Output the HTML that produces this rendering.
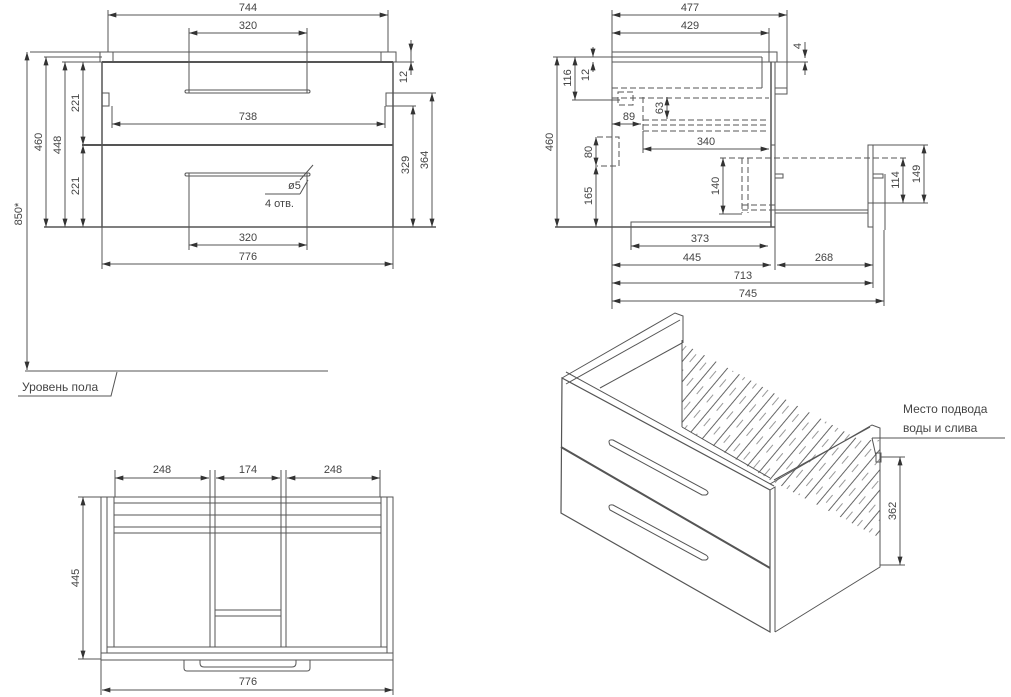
<!DOCTYPE html>
<html><head><meta charset="utf-8">
<style>
html,body{margin:0;padding:0;background:#fff;}
svg{display:block;}
text{font-family:"Liberation Sans Narrow","Liberation Sans",sans-serif;font-size:11px;fill:#444;}
</style></head><body>
<svg width="1011" height="697" viewBox="0 0 1011 697" xmlns="http://www.w3.org/2000/svg">
<defs>
<marker id="a" viewBox="0 0 10 6" refX="10" refY="3" markerWidth="10" markerHeight="5" orient="auto-start-reverse" markerUnits="userSpaceOnUse"><path d="M0,0L10,3L0,6z" fill="#333"/></marker>
<pattern id="h" width="13" height="40" patternUnits="userSpaceOnUse" patternTransform="rotate(40)"><line x1="1" y1="0" x2="1" y2="40" stroke="#666" stroke-width="1"/><line x1="7" y1="4" x2="7" y2="14" stroke="#999" stroke-width="1"/><line x1="7" y1="24" x2="7" y2="34" stroke="#999" stroke-width="1"/></pattern>
</defs>
<g stroke="#555" stroke-width="1" fill="none">
<!-- FRONT VIEW -->
<line x1="30" y1="52" x2="396" y2="52"/>
<rect x="100" y="52" width="13" height="10"/><rect x="381" y="52" width="15" height="10"/>
<line x1="102" y1="62" x2="393" y2="62" stroke-width="2"/>
<line x1="44" y1="57" x2="102" y2="57"/><line x1="62" y1="62" x2="102" y2="62"/>
<line x1="102" y1="62" x2="102" y2="227" stroke-width="1.5"/><line x1="393" y1="62" x2="393" y2="227" stroke-width="1.5"/>
<line x1="82" y1="145" x2="393" y2="145" stroke-width="2"/>
<line x1="44" y1="227" x2="436" y2="227" stroke-width="1.5"/>
<rect x="185" y="90" width="125" height="3" rx="1.5"/><rect x="185" y="173" width="125" height="3" rx="1.5"/>
<path d="M102,93h7v13h-7M393,93h-7v13h7"/>
<line x1="108" y1="52" x2="108" y2="10"/><line x1="388" y1="52" x2="388" y2="10"/>
<line x1="108" y1="15" x2="388" y2="15" marker-start="url(#a)" marker-end="url(#a)"/>
<line x1="189" y1="28" x2="189" y2="93"/><line x1="307" y1="28" x2="307" y2="93"/>
<line x1="189" y1="33" x2="307" y2="33" marker-start="url(#a)" marker-end="url(#a)"/>
<line x1="189" y1="173" x2="189" y2="250"/><line x1="307" y1="173" x2="307" y2="250"/>
<line x1="189" y1="245" x2="307" y2="245" marker-start="url(#a)" marker-end="url(#a)"/>
<line x1="102" y1="227" x2="102" y2="269"/><line x1="393" y1="227" x2="393" y2="269"/>
<line x1="102" y1="264" x2="393" y2="264" marker-start="url(#a)" marker-end="url(#a)"/>
<line x1="112" y1="106" x2="112" y2="128"/><line x1="385" y1="106" x2="385" y2="128"/>
<line x1="112" y1="124" x2="385" y2="124" marker-start="url(#a)" marker-end="url(#a)"/>
<line x1="46" y1="57" x2="46" y2="227" marker-start="url(#a)" marker-end="url(#a)"/>
<line x1="65" y1="62" x2="65" y2="227" marker-start="url(#a)" marker-end="url(#a)"/>
<line x1="83" y1="62" x2="83" y2="145" marker-start="url(#a)" marker-end="url(#a)"/>
<line x1="83" y1="145" x2="83" y2="227" marker-start="url(#a)" marker-end="url(#a)"/>
<line x1="27" y1="52" x2="27" y2="370" marker-start="url(#a)" marker-end="url(#a)"/>
<line x1="396" y1="62" x2="414" y2="62"/>
<line x1="411" y1="40" x2="411" y2="52" marker-end="url(#a)"/><line x1="411" y1="75" x2="411" y2="62" marker-end="url(#a)"/><line x1="411" y1="52" x2="411" y2="62"/>
<line x1="393" y1="93" x2="436" y2="93"/><line x1="393" y1="106" x2="416" y2="106"/>
<line x1="432" y1="93" x2="432" y2="227" marker-start="url(#a)" marker-end="url(#a)"/>
<line x1="413" y1="106" x2="413" y2="227" marker-start="url(#a)" marker-end="url(#a)"/>
<line x1="300" y1="180" x2="313" y2="165"/><line x1="265" y1="194" x2="300" y2="194"/><line x1="300" y1="194" x2="308" y2="180"/>
<!-- floor -->
<line x1="25" y1="371" x2="328" y2="371"/>
<path d="M18,396H111L117,372"/>
<!-- SIDE VIEW -->
<rect x="612" y="52" width="165" height="10"/>
<line x1="612" y1="52" x2="612" y2="309"/>
<line x1="612" y1="57" x2="762" y2="57"/><line x1="762" y1="57" x2="762" y2="88"/>
<line x1="771" y1="62" x2="771" y2="227" stroke-width="1.5"/><line x1="775" y1="62" x2="775" y2="227"/>
<path d="M775,88h12v6h-12"/>
<line x1="555" y1="227" x2="775" y2="227" stroke-width="1.5"/>
<path d="M631,250V222H771"/>
<rect x="868" y="145" width="5" height="82"/>
<line x1="775" y1="210" x2="868" y2="210"/><line x1="775" y1="213" x2="868" y2="213"/>
<path d="M775,174h8v4h-8M873,174h10v4h-10"/><line x1="885" y1="174" x2="885" y2="230"/>
<path d="M771,145h4"/>
<g stroke-dasharray="6,3">
<line x1="612" y1="88" x2="764" y2="88"/><line x1="612" y1="98" x2="769" y2="98"/>
<line x1="643" y1="97" x2="643" y2="131"/>
<line x1="643" y1="120" x2="769" y2="120"/><line x1="643" y1="125" x2="769" y2="125"/><line x1="643" y1="131" x2="769" y2="131"/>
<rect x="618" y="92" width="15" height="13"/>
<path d="M597,137h22v29h-22"/>
<line x1="720" y1="158" x2="906" y2="158"/>
<line x1="742" y1="158" x2="742" y2="213"/><line x1="748" y1="158" x2="748" y2="213"/>
<line x1="742" y1="205" x2="775" y2="205"/><line x1="742" y1="210" x2="775" y2="210"/>
</g>
<line x1="612" y1="10" x2="612" y2="52"/><line x1="787" y1="10" x2="787" y2="90"/>
<line x1="612" y1="15" x2="787" y2="15" marker-start="url(#a)" marker-end="url(#a)"/>
<line x1="769" y1="28" x2="769" y2="62"/>
<line x1="612" y1="33" x2="769" y2="33" marker-start="url(#a)" marker-end="url(#a)"/>
<line x1="777" y1="62" x2="808" y2="62"/>
<line x1="805" y1="42" x2="805" y2="58" marker-end="url(#a)"/><line x1="805" y1="75" x2="805" y2="62" marker-end="url(#a)"/>
<line x1="553" y1="57" x2="612" y2="57"/>
<line x1="557" y1="57" x2="557" y2="227" marker-start="url(#a)" marker-end="url(#a)"/>
<line x1="572" y1="100" x2="620" y2="100"/>
<line x1="575" y1="57" x2="575" y2="100" marker-start="url(#a)" marker-end="url(#a)"/>
<line x1="593" y1="47" x2="593" y2="57" marker-end="url(#a)"/><line x1="593" y1="72" x2="593" y2="62" marker-end="url(#a)"/>
<line x1="612" y1="124" x2="641" y2="124" marker-start="url(#a)" marker-end="url(#a)"/>
<line x1="667" y1="97" x2="667" y2="119" marker-start="url(#a)" marker-end="url(#a)"/>
<line x1="643" y1="131" x2="643" y2="153"/>
<line x1="643" y1="149" x2="769" y2="149" marker-start="url(#a)" marker-end="url(#a)"/>
<line x1="596" y1="137" x2="596" y2="166" marker-start="url(#a)" marker-end="url(#a)"/>
<line x1="596" y1="166" x2="596" y2="227" marker-start="url(#a)" marker-end="url(#a)"/>
<line x1="719" y1="214" x2="742" y2="214"/>
<line x1="723" y1="158" x2="723" y2="214" marker-start="url(#a)" marker-end="url(#a)"/>
<line x1="631" y1="246" x2="768" y2="246" marker-start="url(#a)" marker-end="url(#a)"/>
<line x1="775" y1="227" x2="775" y2="270"/><line x1="873" y1="227" x2="873" y2="288"/><line x1="884" y1="230" x2="884" y2="306"/>
<line x1="612" y1="265" x2="771" y2="265" marker-start="url(#a)" marker-end="url(#a)"/>
<line x1="777" y1="265" x2="873" y2="265" marker-start="url(#a)" marker-end="url(#a)"/>
<line x1="612" y1="283" x2="873" y2="283" marker-start="url(#a)" marker-end="url(#a)"/>
<line x1="612" y1="301" x2="884" y2="301" marker-start="url(#a)" marker-end="url(#a)"/>
<line x1="873" y1="145" x2="928" y2="145"/><line x1="868" y1="203" x2="928" y2="203"/>
<line x1="903" y1="158" x2="903" y2="203" marker-start="url(#a)" marker-end="url(#a)"/>
<line x1="924" y1="145" x2="924" y2="203" marker-start="url(#a)" marker-end="url(#a)"/>
<!-- TOP VIEW -->
<rect x="101" y="497" width="292" height="156"/>
<line x1="107" y1="497" x2="107" y2="653"/><line x1="387" y1="497" x2="387" y2="653"/>
<line x1="114" y1="497" x2="114" y2="647"/><line x1="381" y1="497" x2="381" y2="647"/>
<line x1="107" y1="647" x2="387" y2="647"/>
<line x1="114" y1="503" x2="381" y2="503"/><line x1="114" y1="515" x2="381" y2="515"/><line x1="114" y1="527" x2="381" y2="527"/><line x1="114" y1="533" x2="381" y2="533"/>
<line x1="210" y1="470" x2="210" y2="647"/><line x1="215" y1="470" x2="215" y2="647"/>
<line x1="281" y1="470" x2="281" y2="647"/><line x1="286" y1="470" x2="286" y2="647"/>
<line x1="115" y1="470" x2="115" y2="497"/><line x1="380" y1="470" x2="380" y2="497"/>
<line x1="215" y1="610" x2="281" y2="610"/><line x1="215" y1="616" x2="281" y2="616"/>
<rect x="101" y="653" width="292" height="7"/>
<path d="M184,660v8q0,3 3,3h120q3,0 3,-3v-8M200,660v3q0,4 4,4h88q4,0 4,-4v-3"/>
<line x1="115" y1="478" x2="209" y2="478" marker-start="url(#a)" marker-end="url(#a)"/>
<line x1="216" y1="478" x2="280" y2="478" marker-start="url(#a)" marker-end="url(#a)"/>
<line x1="287" y1="478" x2="380" y2="478" marker-start="url(#a)" marker-end="url(#a)"/>
<line x1="78" y1="497" x2="101" y2="497"/><line x1="78" y1="659" x2="101" y2="659"/>
<line x1="83" y1="497" x2="83" y2="659" marker-start="url(#a)" marker-end="url(#a)"/>
<line x1="101" y1="660" x2="101" y2="695"/><line x1="393" y1="660" x2="393" y2="695"/>
<line x1="102" y1="690" x2="393" y2="690" marker-start="url(#a)" marker-end="url(#a)"/>
<!-- 3D VIEW -->
<polygon points="682,343 860,440 880,440 880,538 770,480 682,427" fill="url(#h)" stroke="none"/>
<path d="M562,378L675,313L683,316L683,343"/>
<path d="M566,384L680,320"/>
<line x1="682" y1="340" x2="682" y2="427"/>
<path d="M682,427L770,478"/>
<path d="M600,388L682,343"/>
<path d="M562,378L770,490L770,632L561,513Z" stroke-width="1.2"/>
<path d="M566,372L774,486"/>
<path d="M770,490L775,487L775,632"/>
<path d="M770,484L872,425L880,428L880,567L775,632"/>
<path d="M774,480L870,427"/>
<path d="M561,447L770,568" stroke-width="2"/>
<path d="M613,440L706,490q4,3 0,5l-4,0L610,445q-3,-6 3,-5Z"/>
<path d="M613,505L706,555q4,3 0,5l-4,0L610,510q-3,-6 3,-5Z"/>
<rect x="876" y="453" width="5" height="9"/>
<line x1="872" y1="438" x2="1005" y2="438"/><line x1="872" y1="438" x2="876" y2="456"/>
<line x1="880" y1="457" x2="905" y2="457"/><line x1="880" y1="565" x2="905" y2="565"/>
<line x1="900" y1="457" x2="900" y2="565" marker-start="url(#a)" marker-end="url(#a)"/>
</g>
<!-- TEXT -->
<text x="248" y="11" text-anchor="middle">744</text>
<text x="248" y="29" text-anchor="middle">320</text>
<text x="248" y="120" text-anchor="middle">738</text>
<text x="248" y="241" text-anchor="middle">320</text>
<text x="248" y="260" text-anchor="middle">776</text>
<text x="288" y="189">ø5</text>
<text x="265" y="207">4 отв.</text>
<text transform="translate(42,142) rotate(-90)" text-anchor="middle">460</text>
<text transform="translate(61,145) rotate(-90)" text-anchor="middle">448</text>
<text transform="translate(79,103) rotate(-90)" text-anchor="middle">221</text>
<text transform="translate(79,186) rotate(-90)" text-anchor="middle">221</text>
<text transform="translate(22,214) rotate(-90)" text-anchor="middle">850*</text>
<text transform="translate(407,77) rotate(-90)" text-anchor="middle">12</text>
<text transform="translate(409,165) rotate(-90)" text-anchor="middle">329</text>
<text transform="translate(428,160) rotate(-90)" text-anchor="middle">364</text>
<text x="22" y="391" style="font-size:12px">Уровень пола</text>
<text x="690" y="11" text-anchor="middle">477</text>
<text x="690" y="29" text-anchor="middle">429</text>
<text transform="translate(801,46) rotate(-90)" text-anchor="middle">4</text>
<text transform="translate(553,142) rotate(-90)" text-anchor="middle">460</text>
<text transform="translate(571,78) rotate(-90)" text-anchor="middle">116</text>
<text transform="translate(589,75) rotate(-90)" text-anchor="middle">12</text>
<text x="629" y="120" text-anchor="middle">89</text>
<text transform="translate(663,108) rotate(-90)" text-anchor="middle">63</text>
<text x="706" y="145" text-anchor="middle">340</text>
<text transform="translate(592,152) rotate(-90)" text-anchor="middle">80</text>
<text transform="translate(592,196) rotate(-90)" text-anchor="middle">165</text>
<text transform="translate(719,186) rotate(-90)" text-anchor="middle">140</text>
<text x="700" y="242" text-anchor="middle">373</text>
<text x="692" y="261" text-anchor="middle">445</text>
<text x="824" y="261" text-anchor="middle">268</text>
<text x="743" y="279" text-anchor="middle">713</text>
<text x="748" y="297" text-anchor="middle">745</text>
<text transform="translate(899,180) rotate(-90)" text-anchor="middle">114</text>
<text transform="translate(920,174) rotate(-90)" text-anchor="middle">149</text>
<text x="162" y="473" text-anchor="middle">248</text>
<text x="248" y="473" text-anchor="middle">174</text>
<text x="333" y="473" text-anchor="middle">248</text>
<text transform="translate(79,578) rotate(-90)" text-anchor="middle">445</text>
<text x="248" y="685" text-anchor="middle">776</text>
<text x="903" y="413" style="font-size:12px">Место подвода</text>
<text x="903" y="432" style="font-size:12px">воды и слива</text>
<text transform="translate(896,511) rotate(-90)" text-anchor="middle">362</text>
</svg>
</body></html>
